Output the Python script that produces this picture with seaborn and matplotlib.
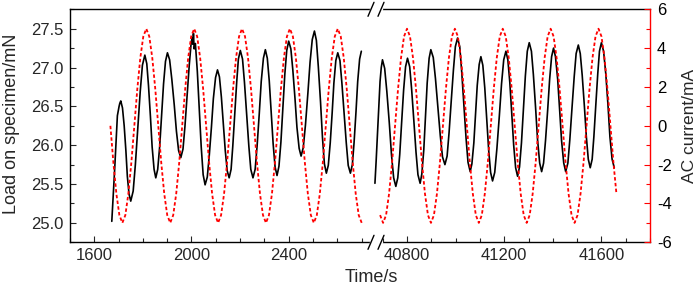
import numpy as np
import pandas as pd
import matplotlib
matplotlib.use("Agg")
import matplotlib.pyplot as plt
import seaborn as sns
from matplotlib.ticker import MultipleLocator, FormatStrFormatter
from matplotlib.lines import Line2D

# --- load on specimen (mN), early part of the test ---
load_t_early = [1672, 1684, 1695, 1702, 1705, 1709,
                1716, 1723, 1730, 1736, 1743, 1750,
                1760, 1769, 1779, 1789, 1798, 1808,
                1816, 1823, 1831, 1838, 1846, 1853,
                1861, 1869, 1877, 1885, 1893, 1901,
                1910, 1919, 1929, 1938, 1947, 1956,
                1965, 1973, 1982, 1991, 1999, 2003, 2006, 2008,
                2011, 2016, 2024, 2032, 2040, 2048, 2056,
                2065, 2073, 2082, 2090, 2099, 2107,
                2115, 2123, 2131, 2139, 2147, 2155,
                2163, 2170, 2178, 2186, 2193, 2201,
                2210, 2218, 2227, 2236, 2244, 2253,
                2262, 2270, 2279, 2287, 2296, 2304,
                2312, 2320, 2328, 2336, 2344, 2352,
                2360, 2368, 2376, 2384, 2392, 2400,
                2409, 2417, 2426, 2434, 2443, 2451,
                2460, 2469, 2479, 2488, 2497, 2506,
                2514, 2522, 2531, 2539, 2547, 2555,
                2563, 2571, 2579, 2586, 2594, 2602,
                2611, 2619, 2628, 2637, 2645, 2654,
                2662, 2669, 2677, 2684, 2692, 2699]
load_early = [25.02, 25.70, 26.38, 26.50, 26.54, 26.57,
              26.48, 26.25, 25.93, 25.60, 25.37, 25.28,
              25.41, 25.75, 26.22, 26.69, 27.03, 27.16,
              27.05, 26.77, 26.37, 25.98, 25.69, 25.58,
              25.69, 25.98, 26.39, 26.79, 27.08, 27.19,
              27.10, 26.85, 26.52, 26.18, 25.93, 25.84,
              25.95, 26.24, 26.64, 27.04, 27.33, 27.38, 27.30, 27.44,
              27.24, 27.31, 26.95, 26.47, 25.98, 25.62, 25.49,
              25.59, 25.86, 26.23, 26.60, 26.87, 26.97,
              26.88, 26.62, 26.28, 25.93, 25.67, 25.58,
              25.69, 25.99, 26.40, 26.81, 27.11, 27.22,
              27.11, 26.81, 26.40, 25.99, 25.69, 25.58,
              25.69, 25.99, 26.41, 26.82, 27.12, 27.23,
              27.12, 26.83, 26.42, 26.02, 25.72, 25.61,
              25.73, 26.04, 26.48, 26.91, 27.22, 27.34,
              27.24, 26.97, 26.60, 26.23, 25.96, 25.86,
              25.97, 26.26, 26.67, 27.07, 27.36, 27.47,
              27.35, 27.01, 26.56, 26.10, 25.76, 25.64,
              25.74, 26.03, 26.42, 26.80, 27.09, 27.19,
              27.09, 26.80, 26.42, 26.03, 25.74, 25.64,
              25.75, 26.03, 26.43, 26.82, 27.11, 27.21]

# --- load on specimen, late part ---
load_t_late = [40668, 40673, 40678, 40684, 40689, 40694, 40699,
               40708, 40717, 40727, 40736, 40745, 40754,
               40762, 40770, 40778, 40786, 40794, 40802,
               40811, 40819, 40828, 40837, 40845, 40854,
               40861, 40869, 40876, 40883, 40891, 40898,
               40908, 40917, 40927, 40937, 40946, 40956,
               40965, 40973, 40982, 40991, 40999, 41008,
               41017, 41025, 41034, 41043, 41051, 41060,
               41067, 41075, 41082, 41089, 41097, 41104,
               41112, 41120, 41128, 41136, 41144, 41152,
               41161, 41170, 41180, 41189, 41198, 41207,
               41215, 41223, 41231, 41239, 41247, 41255,
               41263, 41271, 41279, 41287, 41295, 41303,
               41312, 41320, 41329, 41337, 41346, 41354,
               41362, 41370, 41379, 41387, 41395, 41403,
               41411, 41420, 41428, 41436, 41445, 41453,
               41462, 41470, 41479, 41488, 41496, 41505,
               41513, 41521, 41530, 41538, 41546, 41554,
               41562, 41569, 41577, 41585, 41592, 41600,
               41609, 41618, 41627, 41635, 41644, 41653]
load_late = [25.51, 25.80, 26.12, 26.50, 26.82, 27.00, 27.10,
             26.99, 26.69, 26.29, 25.88, 25.58, 25.47,
             25.58, 25.88, 26.30, 26.71, 27.01, 27.12,
             27.01, 26.72, 26.32, 25.91, 25.62, 25.51,
             25.63, 25.94, 26.37, 26.80, 27.12, 27.23,
             27.13, 26.86, 26.49, 26.12, 25.85, 25.75,
             25.86, 26.16, 26.57, 26.97, 27.27, 27.38,
             27.27, 26.95, 26.52, 26.09, 25.78, 25.66,
             25.76, 26.03, 26.40, 26.77, 27.04, 27.14,
             27.03, 26.74, 26.34, 25.94, 25.65, 25.54,
             25.65, 25.96, 26.38, 26.79, 27.10, 27.21,
             27.10, 26.81, 26.41, 26.00, 25.71, 25.60,
             25.72, 26.03, 26.46, 26.89, 27.21, 27.32,
             27.21, 26.91, 26.49, 26.08, 25.77, 25.66,
             25.77, 26.06, 26.46, 26.85, 27.14, 27.25,
             27.14, 26.85, 26.46, 26.06, 25.77, 25.66,
             25.77, 26.07, 26.48, 26.88, 27.18, 27.29,
             27.18, 26.90, 26.50, 26.11, 25.82, 25.71,
             25.82, 26.11, 26.52, 26.92, 27.21, 27.32,
             27.21, 26.92, 26.52, 26.11, 25.82, 25.71]

# --- AC current (mA), read every 1/16 of the ~197 s period ---
cur_step = 12.3125
cur_t0_early = 1666.25
cur_early = [0, -1.9, -3.5, -4.6, -5, -4.6, -3.5, -1.9, 0, 1.9, 3.5, 4.6, 5, 4.6, 3.5, 1.9,
             0, -1.9, -3.5, -4.6, -5, -4.6, -3.5, -1.9, 0, 1.9, 3.5, 4.6, 5, 4.6, 3.5, 1.9,
             0, -1.9, -3.5, -4.6, -5, -4.6, -3.5, -1.9, 0, 1.9, 3.5, 4.6, 5, 4.6, 3.5, 1.9,
             0, -1.9, -3.5, -4.6, -5, -4.6, -3.5, -1.9, 0, 1.9, 3.5, 4.6, 5, 4.6, 3.5, 1.9,
             0, -1.9, -3.5, -4.6, -5, -4.6, -3.5, -1.9, 0, 1.9, 3.5, 4.6, 5, 4.6, 3.5, 1.9,
             0, -1.9, -3.5, -4.6, -5]
cur_t0_late = 40689.19
cur_late = [-4.6, -5, -4.6, -3.5, -1.9, 0, 1.9, 3.5, 4.6, 5, 4.6, 3.5, 1.9, 0, -1.9, -3.5,
            -4.6, -5, -4.6, -3.5, -1.9, 0, 1.9, 3.5, 4.6, 5, 4.6, 3.5, 1.9, 0, -1.9, -3.5,
            -4.6, -5, -4.6, -3.5, -1.9, 0, 1.9, 3.5, 4.6, 5, 4.6, 3.5, 1.9, 0, -1.9, -3.5,
            -4.6, -5, -4.6, -3.5, -1.9, 0, 1.9, 3.5, 4.6, 5, 4.6, 3.5, 1.9, 0, -1.9, -3.5,
            -4.6, -5, -4.6, -3.5, -1.9, 0, 1.9, 3.5, 4.6, 5, 4.6, 3.5, 1.9, 0, -1.9, -3.5]

xlim_early = (1500, 2752)
xlim_late = (40665, 41800)

cur_t_early = cur_t0_early + cur_step * np.arange(len(cur_early))
cur_t_late = cur_t0_late + cur_step * np.arange(len(cur_late))

sns.set_theme(style="ticks")
plt.rcParams['font.family'] = ['Liberation Sans', 'DejaVu Sans']
plt.rcParams['axes.unicode_minus'] = False

W, H = 700, 286
fig = plt.figure(figsize=(7, 2.86), dpi=100)
ax_l, ax_r, ax_b, ax_t = 70, 650, 242.3, 9.3
gs = fig.add_gridspec(1, 2, left=ax_l / W, right=ax_r / W, bottom=1 - ax_b / H, top=1 - ax_t / H,
                      wspace=0, width_ratios=[xlim_early[1] - xlim_early[0], xlim_late[1] - xlim_late[0]])
ax1 = fig.add_subplot(gs[0])
ax2 = fig.add_subplot(gs[1], sharey=ax1)
ax1r = ax1.twinx()
ax2r = ax2.twinx()

red_ls = (0, (1.9, 1.3))
sns.lineplot(x=load_t_early, y=load_early, ax=ax1, color="black", lw=1.2, estimator=None, sort=False)
sns.lineplot(x=load_t_late, y=load_late, ax=ax2, color="black", lw=1.2, estimator=None, sort=False)
sns.lineplot(x=cur_t_early, y=cur_early, ax=ax1r, color="red", lw=1.3, linestyle=red_ls,
             estimator=None, sort=False)
sns.lineplot(x=cur_t_late, y=cur_late, ax=ax2r, color="red", lw=1.3, linestyle=red_ls,
             estimator=None, sort=False)

ax1.set_xlim(*xlim_early)
ax2.set_xlim(*xlim_late)
ax1.set_ylim(24.75, 27.75)
for a in (ax1r, ax2r):
    a.set_ylim(-6, 6)
    a.set_xlabel("")
    a.set_ylabel("")

for a in (ax1, ax2):
    a.xaxis.set_major_locator(MultipleLocator(400))
    a.xaxis.set_minor_locator(MultipleLocator(100))
    a.tick_params(axis="x", which="both", direction="in", top=False, labelsize=12, pad=4)
    a.tick_params(axis="x", which="major", length=4, width=0.8)
    a.tick_params(axis="x", which="minor", length=3, width=0.8)
    a.set_xlabel("")
    a.set_ylabel("")
    for s in a.spines.values():
        s.set_color("black")
        s.set_linewidth(1.0)

ax1.yaxis.set_major_locator(MultipleLocator(0.5))
ax1.yaxis.set_minor_locator(MultipleLocator(0.25))
ax1.yaxis.set_major_formatter(FormatStrFormatter("%.1f"))
ax1.tick_params(axis="y", which="both", direction="in", right=False, labelsize=12, pad=5)
ax1.tick_params(axis="y", which="major", length=4, width=0.8)
ax1.tick_params(axis="y", which="minor", length=3, width=0.8)
ax1.spines["right"].set_visible(False)

ax2.spines["left"].set_visible(False)
ax2.spines["right"].set_visible(False)
ax2.tick_params(axis="y", which="both", left=False, right=False, labelleft=False)

# right-hand current axis only on the late segment
ax1r.axis("off")
for k in ("left", "top", "bottom"):
    ax2r.spines[k].set_visible(False)
ax2r.spines["right"].set_color("red")
ax2r.spines["right"].set_linewidth(1.0)
ax2r.yaxis.set_major_locator(MultipleLocator(2))
ax2r.yaxis.set_minor_locator(MultipleLocator(1))
ax2r.tick_params(axis="y", which="both", direction="in", colors="red", labelcolor="black",
                 labelsize=12, pad=5, width=0.8)
ax2r.tick_params(axis="y", which="major", length=4)
ax2r.tick_params(axis="y", which="minor", length=3)

# axis break marks
xb = 376
for yb in (ax_t, ax_b):
    fig.add_artist(Line2D([(xb - 5) / W, (xb + 5) / W], [1 - yb / H, 1 - yb / H],
                          color="white", lw=2.5, transform=fig.transFigure))
    for dx in (-5, 5):
        fig.add_artist(Line2D([(xb + dx - 3) / W, (xb + dx + 3) / W],
                              [1 - (yb + 7) / H, 1 - (yb - 7) / H],
                              color="black", lw=1.0, transform=fig.transFigure))

fig.text(12 / W, 1 - 124 / H, "Load on specimen/mN", rotation=90, ha="center", va="center", fontsize=13)
fig.text(690 / W, 1 - 126 / H, "AC current/mA", rotation=90, ha="center", va="center", fontsize=12.5)
fig.text(371 / W, 1 - 277 / H, "Time/s", ha="center", va="center", fontsize=13)

fig.savefig("out.png", dpi=100)
